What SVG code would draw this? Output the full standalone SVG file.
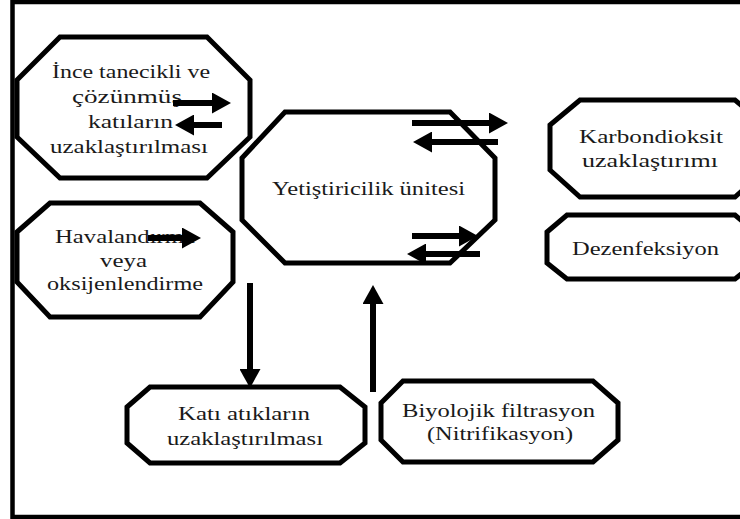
<svg xmlns="http://www.w3.org/2000/svg" width="740" height="519" viewBox="0 0 740 519">
  <style>
    .oct { fill: #ffffff; stroke: #000000; stroke-width: 5; stroke-linejoin: miter; }
    .lbl { font-family: "Liberation Serif", "Times New Roman", serif; font-size: 19px; fill: #1a1a1a; }
    .arr { stroke: #000000; stroke-width: 6; fill: none; marker-end: url(#head); }
    .frame { fill: none; stroke: #000000; stroke-width: 4.5; }
  </style>
  <defs>
    <marker id="head" markerUnits="userSpaceOnUse" markerWidth="19" markerHeight="21" refX="0" refY="10.5" orient="auto">
      <path d="M0,0 L19,10.5 L0,21 Z" fill="#000000"/>
    </marker>
  </defs>
  <rect x="0" y="0" width="740" height="519" fill="#ffffff"/>
  <rect class="frame" x="12.5" y="2" width="760" height="515"/>

  <g id="node-ince">
    <polygon class="oct" points="60,37 207,37 250,80 250,137 207,178 60,178 17,137 17,80"/>
    <text class="lbl" x="52" y="78" textLength="158" lengthAdjust="spacingAndGlyphs">İnce tanecikli ve</text>
    <text class="lbl" x="72" y="103" textLength="110" lengthAdjust="spacingAndGlyphs">çözünmüş</text>
    <text class="lbl" x="88" y="128" textLength="85" lengthAdjust="spacingAndGlyphs">katıların</text>
    <text class="lbl" x="50" y="153" textLength="158" lengthAdjust="spacingAndGlyphs">uzaklaştırılması</text>
  </g>

  <g id="node-havalandirma">
    <polygon class="oct" points="50,203 200,203 233,232 233,282 200,317 50,317 17,282 17,232"/>
    <text class="lbl" x="55" y="243" textLength="140" lengthAdjust="spacingAndGlyphs">Havalandırma</text>
    <text class="lbl" x="100" y="267" textLength="47" lengthAdjust="spacingAndGlyphs">veya</text>
    <text class="lbl" x="47" y="290" textLength="156" lengthAdjust="spacingAndGlyphs">oksijenlendirme</text>
  </g>

  <g id="node-yetistiricilik">
    <polygon class="oct" points="285,112 450,112 495,158 495,220 450,263 285,263 242,220 242,158"/>
    <text class="lbl" x="272" y="195" textLength="193" lengthAdjust="spacingAndGlyphs">Yetiştiricilik ünitesi</text>
  </g>

  <g id="node-karbondioksit">
    <polygon class="oct" points="580,100 735,100 765,125 765,170 735,197 580,197 550,170 550,125"/>
    <text class="lbl" x="579" y="143" textLength="144" lengthAdjust="spacingAndGlyphs">Karbondioksit</text>
    <text class="lbl" x="582" y="167" textLength="136" lengthAdjust="spacingAndGlyphs">uzaklaştırımı</text>
  </g>

  <g id="node-dezenfeksiyon">
    <polygon class="oct" points="567,215 735,215 755,232 755,263 735,279 567,279 547,263 547,232"/>
    <text class="lbl" x="572" y="255" textLength="147" lengthAdjust="spacingAndGlyphs">Dezenfeksiyon</text>
  </g>

  <g id="node-kati">
    <polygon class="oct" points="150,387 340,387 365,407 365,443 340,463 150,463 127,443 127,407"/>
    <text class="lbl" x="178" y="420" textLength="132" lengthAdjust="spacingAndGlyphs">Katı atıkların</text>
    <text class="lbl" x="167" y="445" textLength="156" lengthAdjust="spacingAndGlyphs">uzaklaştırılması</text>
  </g>

  <g id="node-biyolojik">
    <polygon class="oct" points="403,381 593,381 618,403 618,440 593,462 403,462 381,440 381,403"/>
    <text class="lbl" x="402" y="417" textLength="193" lengthAdjust="spacingAndGlyphs">Biyolojik filtrasyon</text>
    <text class="lbl" x="427" y="440" textLength="146" lengthAdjust="spacingAndGlyphs">(Nitrifikasyon)</text>
  </g>

  <g id="connectors">
    <line class="arr" x1="173" y1="103" x2="212" y2="103"/>
    <line class="arr" x1="222" y1="125" x2="194" y2="125"/>
    <line class="arr" x1="148" y1="238" x2="182" y2="238"/>
    <line class="arr" x1="412" y1="123" x2="489" y2="123"/>
    <line class="arr" x1="498" y1="142" x2="432" y2="142"/>
    <line class="arr" x1="412" y1="236" x2="459" y2="236"/>
    <line class="arr" x1="480" y1="254" x2="426" y2="254"/>
    <line class="arr" x1="250" y1="283" x2="250" y2="369"/>
    <line class="arr" x1="373" y1="392" x2="373" y2="304"/>
  </g>
</svg>
